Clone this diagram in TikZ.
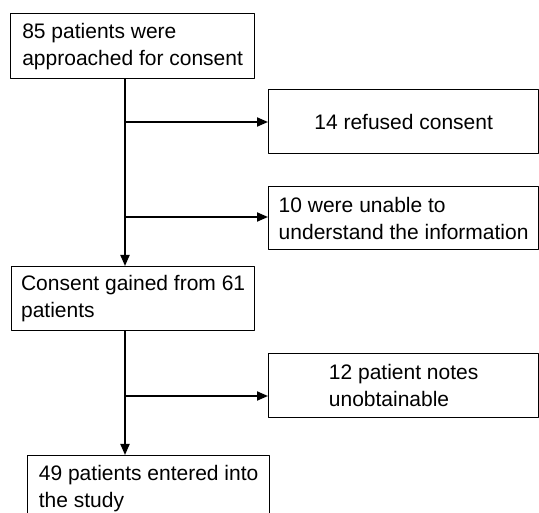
\documentclass[tikz,border=0pt]{standalone}
\usepackage{fontspec}
\setmainfont{Liberation Sans}
\usetikzlibrary{arrows.meta}
\begin{document}
\begin{tikzpicture}[x=1pt,y=-1pt,>={Triangle[length=11pt,width=9pt]},line join=round,
	box/.style={draw,line width=1.3pt,anchor=north west,align=left,inner sep=0pt,minimum width=#1,minimum height=64pt,font=\fontsize{21}{27}\selectfont},
	flow/.style={->,line width=1.9pt}]
			\useasboundingbox (0,0) rectangle (539,513);
			\clip (0,0) rectangle (539,513);
			% boxes
			\node[box=244pt,minimum height=65pt] (approached) at (10,13) {85 patients were\\approached for consent};
			\node[box=270pt] (refused) at (268,89) {14 refused consent};
			\node[box=270pt,minimum height=63pt] (unable) at (268,186) {10 were unable to\\understand the information};
			\node[box=243pt] (consent) at (11,266) {Consent gained from 61\\patients};
			\node[box=270pt] (notes) at (268,353) {12 patient notes\\unobtainable};
			\node[box=242pt,minimum height=65pt] (entered) at (27,455) {49 patients entered into\\the study};
			% junctions on the main line
			\coordinate (j1) at (125,122);
			\coordinate (j2) at (125,217);
			\coordinate (j3) at (125,396);
			% connectors
			\draw[flow] (approached.south -| j1) -- (consent.north -| j1);
			\draw[flow] (j1) -- (refused.west |- j1);
			\draw[flow] (j2) -- (unable.west |- j2);
			\draw[flow] (consent.south -| j3) -- (entered.north -| j3);
			\draw[flow] (j3) -- (notes.west |- j3);
\end{tikzpicture}
\end{document}
